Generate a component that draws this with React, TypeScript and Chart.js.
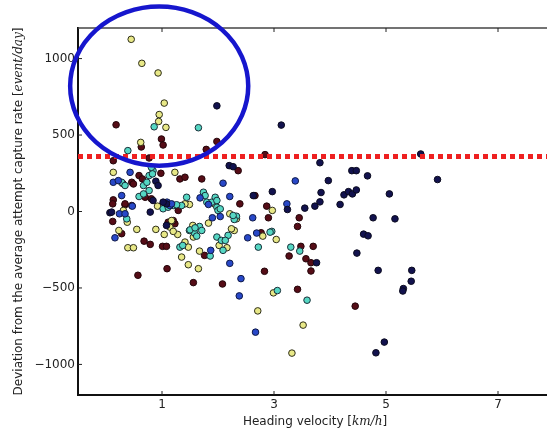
import { useEffect, useRef } from "react";
import { Chart, registerables } from "chart.js";

Chart.register(...registerables);

// ---- axis configuration / annotations (data units) ----
const X_TICKS = [1, 3, 5, 7];
const Y_TICKS = [-1000, -500, 0, 500, 1000];
const X_MIN = -0.5;
const X_MAX = 7.875;
const Y_MIN = -1200;
const Y_MAX = 1200;
const THRESHOLD = 360;
const HIGHLIGHT_CENTER = [0.95, 820];
const HIGHLIGHT_RADII = [1.59, 520];
const X_LABEL = ["Heading velocity [", "km/h", "]"];
const Y_LABEL = ["Deviation from the average attempt capture rate [", "event/day", "]"];

// ---- series: [velocity, deviation] ----
const yellowPts: [number, number][] = [
  [0.45, 1126], [0.64, 969], [0.93, 906], [1.04, 709], [0.95, 634], [0.94, 589], [1.07, 550], [0.62, 452],
  [2.97, 7], [3.04, -183], [2.99, -532], [3.52, -743], [3.32, -926],
  [0.38, -70], [0.23, -124], [0.39, -237], [0.49, -237], [0.55, -117], [0.89, -117], [1.04, -150], [0.92, 35],
  [1.49, 46], [1.14, -102], [1.17, -59], [1.28, -150], [1.41, -200], [1.47, -233], [1.35, -298], [1.47, -348],
  [1.65, -374], [1.55, -91], [1.67, -259], [1.83, -76], [1.95, 46], [2.02, -222], [2.16, -237], [2.29, -124],
  [2.21, -15], [2.80, -161], [2.71, -650], [0.13, 256], [0.31, 7], [1.23, 256], [1.41, 50], [2.33, -48],
  [2.24, -113], [1.56, -167], [1.20, -130],
];
const cyanPts: [number, number][] = [
  [0.86, 554], [1.65, 548], [0.39, 398], [2.96, -130], [3.30, -233], [3.46, -259], [3.06, -517], [3.59, -580],
  [0.37, -48], [1.02, 18], [1.20, 39], [1.35, 39], [1.67, -98], [1.49, -124], [1.58, -141], [1.62, -161],
  [1.32, -233], [1.37, -222], [1.86, -291], [1.98, 28], [2.00, 7], [1.98, -167], [2.06, -189], [2.09, -254],
  [2.18, -156], [2.33, -31], [2.29, -52], [2.72, -233], [2.93, -135], [0.77, 235], [0.84, 267], [0.28, 191],
  [0.34, 170], [0.67, 170], [0.73, 191], [0.77, 137], [0.59, 98], [0.67, 115], [1.11, 28], [0.81, 289],
  [0.83, 246], [1.44, 93], [1.26, 44], [1.74, 126], [1.77, 104], [1.80, 61], [1.89, 61], [1.95, 93],
  [1.98, 72], [2.04, 17], [2.27, -26], [1.50, -120], [1.59, -107], [1.71, -124], [2.13, -189],
];
const bluePts: [number, number][] = [
  [3.38, 200], [3.23, 50], [0.16, -172], [0.24, -15], [0.34, -15], [0.47, 35], [1.14, 39], [1.87, -254],
  [1.90, -41], [2.04, -33], [1.83, 46], [2.62, -41], [2.53, -172], [2.69, -141], [2.41, -439], [2.38, -552],
  [2.67, -789], [2.21, -339], [0.43, 256], [0.13, 191], [0.22, 202], [1.09, 61], [1.17, 50], [0.28, 104],
  [2.09, 185], [2.21, 98], [1.68, 89],
];
const navyPts: [number, number][] = [
  [1.98, 691], [3.13, 565], [5.62, 376], [3.82, 319], [4.39, 267], [4.47, 267], [4.67, 233], [5.92, 209],
  [3.97, 202], [2.97, 130], [3.84, 124], [4.25, 109], [4.33, 130], [4.40, 115], [4.47, 141], [5.06, 115],
  [3.82, 63], [3.24, 13], [3.73, 35], [3.55, 22], [4.18, 46], [4.77, -41], [5.16, -48], [4.60, -148],
  [4.68, -159], [4.48, -272], [3.76, -335], [4.86, -385], [5.46, -385], [5.45, -456], [5.31, -504], [5.30, -520],
  [4.97, -854], [4.82, -924], [0.07, -8], [0.79, -4], [1.08, 50], [1.08, -91], [0.89, 198], [0.93, 170],
  [0.84, 72], [1.02, 61], [0.10, -4], [2.20, 300], [2.27, 293], [2.63, 104],
];
const maroonPts: [number, number][] = [
  [0.18, 567], [0.63, 422], [0.99, 474], [1.02, 435], [1.98, 458], [1.79, 406], [3.45, -41], [3.42, -98],
  [3.48, -228], [3.70, -228], [3.27, -291], [3.57, -309], [3.66, -335], [3.66, -389], [3.42, -509], [4.45, -619],
  [0.57, -417], [1.09, -374], [1.56, -465], [2.08, -474], [2.83, -391], [0.12, -65], [0.28, -145], [0.34, 44],
  [0.68, -194], [0.79, -215], [1.01, -228], [1.08, -228], [1.11, -70], [1.23, -80], [1.76, -287], [2.39, 50],
  [2.77, -139], [2.87, 35], [2.90, -41], [0.13, 332], [0.77, 350], [0.59, 235], [0.65, 213], [0.98, 250],
  [0.46, 191], [0.49, 180], [0.70, 93], [0.81, 83], [0.13, 76], [0.12, 50], [0.34, 50], [0.46, 39],
  [0.30, 183], [1.32, 213], [1.41, 224], [1.71, 213], [2.36, 267], [1.29, 7], [1.20, -59], [2.84, 372],
  [2.66, 104],
];

const SERIES = [
  { pts: navyPts, fill: "rgb(18,18,78)", edge: "rgb(10,10,30)" },
  { pts: bluePts, fill: "rgb(40,72,200)", edge: "rgb(15,25,70)" },
  { pts: cyanPts, fill: "rgb(85,215,195)", edge: "rgb(25,45,55)" },
  { pts: yellowPts, fill: "rgb(232,232,135)", edge: "rgb(45,45,25)" },
  { pts: maroonPts, fill: "rgb(85,12,22)", edge: "rgb(35,5,10)" },
];

const SANS = '"DejaVu Sans", sans-serif';
const SERIF_IT = 'italic 12px "DejaVu Serif", serif';

function drawMixed(ctx: CanvasRenderingContext2D, parts: string[], cx: number, cy: number) {
  const fonts = [`12px ${SANS}`, SERIF_IT, `12px ${SANS}`];
  const widths = parts.map((p, i) => {
    ctx.font = fonts[i];
    return ctx.measureText(p).width;
  });
  const total = widths.reduce((a, b) => a + b, 0);
  let x = cx - total / 2;
  ctx.textBaseline = "middle";
  ctx.textAlign = "left";
  parts.forEach((p, i) => {
    ctx.font = fonts[i];
    ctx.fillText(p, x, cy);
    x += widths[i];
  });
}

const decorPlugin = {
  id: "decor",
  afterDatasetsDraw(chart: any) {
    const { ctx, chartArea, scales } = chart;
    const y = scales.y.getPixelForValue(THRESHOLD);
    ctx.save();
    ctx.beginPath();
    ctx.rect(chartArea.left, chartArea.top, chart.width - chartArea.left, chartArea.bottom - chartArea.top);
    ctx.clip();
    ctx.strokeStyle = "rgb(238,32,32)";
    ctx.lineWidth = 5;
    ctx.setLineDash([5, 4]);
    ctx.beginPath();
    ctx.moveTo(chartArea.left, y);
    ctx.lineTo(chart.width, y);
    ctx.stroke();
    ctx.restore();
  },
  afterDraw(chart: any) {
    const { ctx, chartArea, scales } = chart;
    const xs = scales.x;
    const ys = scales.y;
    ctx.save();
    // top spine
    ctx.strokeStyle = "#444";
    ctx.lineWidth = 1.5;
    ctx.beginPath();
    ctx.moveTo(chartArea.left, chartArea.top);
    ctx.lineTo(chart.width, chartArea.top);
    ctx.stroke();
    // inward tick marks
    ctx.strokeStyle = "#222";
    ctx.lineWidth = 1;
    X_TICKS.forEach((t) => {
      const px = xs.getPixelForValue(t);
      ctx.beginPath();
      ctx.moveTo(px, chartArea.bottom);
      ctx.lineTo(px, chartArea.bottom - 4);
      ctx.moveTo(px, chartArea.top);
      ctx.lineTo(px, chartArea.top + 4);
      ctx.stroke();
    });
    Y_TICKS.forEach((t) => {
      const py = ys.getPixelForValue(t);
      ctx.beginPath();
      ctx.moveTo(chartArea.left, py);
      ctx.lineTo(chartArea.left + 4, py);
      ctx.stroke();
    });
    // highlight ellipse
    const cx = xs.getPixelForValue(HIGHLIGHT_CENTER[0]);
    const cy = ys.getPixelForValue(HIGHLIGHT_CENTER[1]);
    const rx = Math.abs(xs.getPixelForValue(HIGHLIGHT_CENTER[0] + HIGHLIGHT_RADII[0]) - cx);
    const ry = Math.abs(ys.getPixelForValue(HIGHLIGHT_CENTER[1] + HIGHLIGHT_RADII[1]) - cy);
    ctx.strokeStyle = "rgb(22,22,205)";
    ctx.lineWidth = 4.5;
    ctx.beginPath();
    ctx.ellipse(cx, cy, rx, ry, 0, 0, Math.PI * 2);
    ctx.stroke();
    // axis titles
    ctx.fillStyle = "#222";
    drawMixed(ctx, X_LABEL, 315, 422);
    ctx.translate(19, (chartArea.top + chartArea.bottom) / 2);
    ctx.rotate(-Math.PI / 2);
    drawMixed(ctx, Y_LABEL, 0, 0);
    ctx.restore();
  },
};

export default function App() {
  const ref = useRef<HTMLCanvasElement | null>(null);
  useEffect(() => {
    document.body.style.margin = "0";
    if (!ref.current) return;
    const chart = new Chart(ref.current, {
      type: "scatter",
      data: {
        datasets: SERIES.map((s) => ({
          data: s.pts.map(([x, y]) => ({ x, y })),
          backgroundColor: s.fill,
          borderColor: s.edge,
          borderWidth: 1,
          pointRadius: 3.3,
          pointHoverRadius: 3.3,
        })),
      },
      options: {
        responsive: false,
        animation: false,
        devicePixelRatio: 1,
        layout: { autoPadding: false, padding: { top: 28, right: 0, left: 0, bottom: 0 } },
        plugins: { legend: { display: false }, tooltip: { enabled: false } },
        scales: {
          x: {
            type: "linear",
            min: X_MIN,
            max: X_MAX,
            afterBuildTicks: (s: any) => {
              s.ticks = X_TICKS.map((v) => ({ value: v }));
            },
            afterFit: (s: any) => {
              s.height = 40;
              s.paddingLeft = 0;
              s.paddingRight = 0;
            },
            grid: { display: false, drawTicks: false },
            border: { display: true, color: "#111", width: 2 },
            ticks: {
              padding: 3,
              color: "#222",
              font: { family: SANS, size: 12 },
              callback: (v: any) => String(v).replace("-", "\u2212"),
            },
          },
          y: {
            type: "linear",
            min: Y_MIN,
            max: Y_MAX,
            afterBuildTicks: (s: any) => {
              s.ticks = Y_TICKS.map((v) => ({ value: v }));
            },
            afterFit: (s: any) => {
              s.width = 78;
              s.paddingTop = 0;
              s.paddingBottom = 0;
            },
            grid: { display: false, drawTicks: false },
            border: { display: true, color: "#111", width: 2 },
            ticks: {
              padding: 3,
              color: "#222",
              font: { family: SANS, size: 12 },
              callback: (v: any) => String(v).replace("-", "\u2212"),
            },
          },
        },
      },
      plugins: [decorPlugin],
    });
    return () => chart.destroy();
  }, []);
  return (
    <div style={{ width: 547, height: 435, background: "#fff" }}>
      <canvas ref={ref} width={547} height={435} style={{ display: "block" }} />
    </div>
  );
}
